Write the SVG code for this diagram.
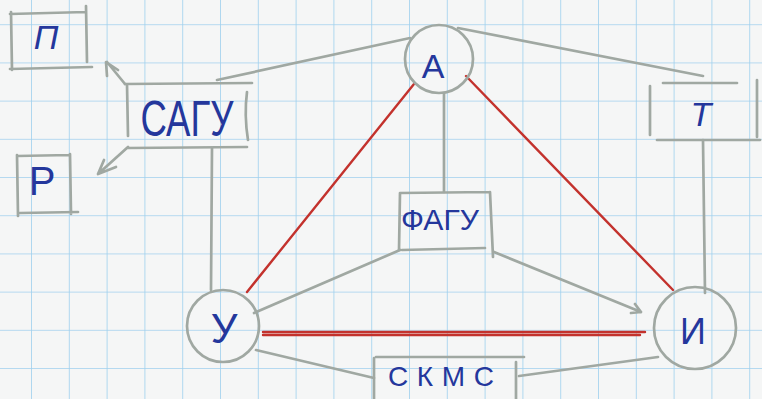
<svg xmlns="http://www.w3.org/2000/svg" width="762" height="399" viewBox="0 0 762 399">
<defs>
<pattern id="grid" x="-5.8" y="-13" width="37.8" height="38.2" patternUnits="userSpaceOnUse">
<path d="M37.8,0 V38.2 M0,38.2 H37.8" fill="none" stroke="#9fd0ee" stroke-width="1.6"/>
</pattern>
<style>
.pen{fill:none;stroke:#a0a8a2;stroke-width:2.7;stroke-linecap:round;stroke-linejoin:round}
.red{fill:none;stroke:#c3322d;stroke-width:2.4;stroke-linecap:round}
.ink{font-family:"Liberation Sans","DejaVu Sans",sans-serif;fill:#24379c;text-anchor:middle}
</style>
</defs>
<rect width="762" height="399" fill="#f5f6f6"/>
<rect width="762" height="399" fill="url(#grid)"/>

<g id="connectors">
<path class="pen" d="M125,84 L107,62 M107,76 L106,62 L118,70"/>
<path class="pen" d="M128,147 L98,174 M104,160 L98,174 L116,167"/>
<path class="pen" d="M217,80 L410,38"/>
<path class="pen" d="M212,148 L211,290"/>
<path class="pen" d="M458,28 L703,76"/>
<path class="pen" d="M703,140 L705,293"/>
<path class="pen" d="M444,93 L444,192"/>
<path class="pen" d="M400,250 L254,313"/>
<path class="pen" d="M494,252 L641,312 M635,304 L641,312 L631,313"/>
<path class="pen" d="M256,350 L374,378"/>
<path class="pen" d="M658,357 L519,376"/>
<path class="red" d="M414,84 L247,292"/>
<path class="red" d="M466,76 L673,290"/>
<path class="red" d="M263,332 L645,332 M263,335 L640,335"/>
</g>

<g id="node-P">
<path class="pen" d="M11,12 L12,70 M10,14 L86,12 M86,6 L87,62 M10,69 L92,67"/>
<text class="ink" x="46" y="49" font-size="34" font-style="italic">П</text>
</g>

<g id="node-R">
<path class="pen" d="M17,155 L18,216 M17,156 L70,155 M70,154 L71,214 M20,213 L78,212"/>
<text class="ink" x="42" y="195" font-size="40">Р</text>
</g>

<g id="node-SAGU">
<path class="pen" d="M125,84 L252,83 M127,84 L128,136 M247,92 Q244,115 248,140 M128,148 L247,147"/>
<text class="ink" x="187" y="136" font-size="50" textLength="93" lengthAdjust="spacingAndGlyphs">САГУ</text>
</g>

<g id="node-A">
<circle class="pen" cx="439" cy="59" r="34"/>
<text class="ink" x="433" y="78" font-size="34">А</text>
</g>

<g id="node-T">
<path class="pen" d="M663,83 L737,83 M650,86 L650,135 M757,80 L757,137 M657,140 L760,140"/>
<text class="ink" x="701" y="126" font-size="34" font-style="italic">Т</text>
</g>

<g id="node-FAGU">
<path class="pen" d="M400,193 L490,192 M400,193 L399,250 M490,192 L493,257 M402,250 L485,248"/>
<text class="ink" x="440" y="230" font-size="30" textLength="78" lengthAdjust="spacingAndGlyphs">ФАГУ</text>
</g>

<g id="node-U">
<circle class="pen" cx="223" cy="326" r="36"/>
<text class="ink" x="224" y="343" font-size="42">У</text>
</g>

<g id="node-I">
<circle class="pen" cx="695" cy="328" r="41"/>
<text class="ink" x="693" y="344" font-size="36">И</text>
</g>

<g id="node-SKMS">
<path class="pen" d="M374,358 L374,399 M376,357 L524,357 M516,362 L516,399"/>
<text class="ink" x="441" y="386" font-size="28" textLength="106" lengthAdjust="spacing">СКМС</text>
</g>
</svg>
